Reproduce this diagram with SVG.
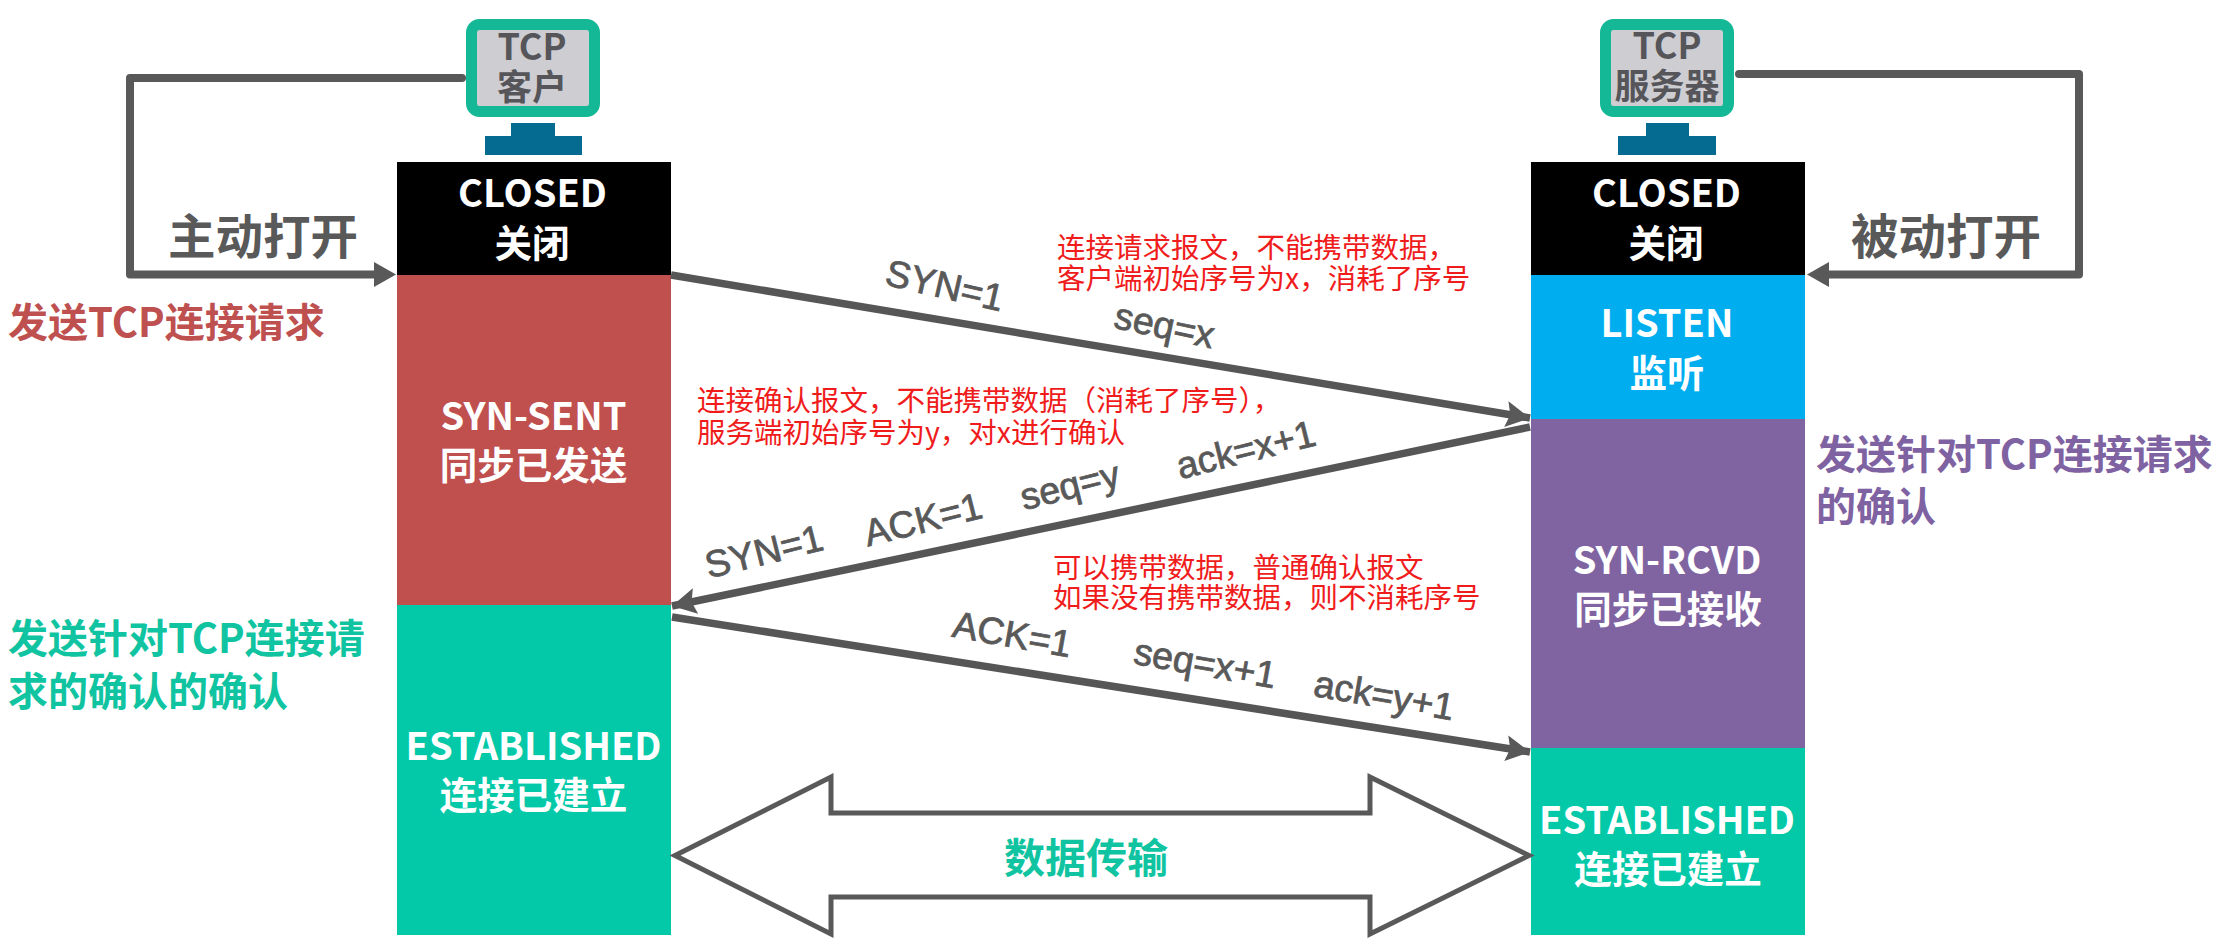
<svg xmlns="http://www.w3.org/2000/svg" width="2222" height="952" viewBox="0 0 2222 952">
<style>
text{font-family:"Noto Sans CJK SC","Noto Sans",sans-serif}
.st{fill:#fff;font-size:37.5px;font-weight:700;text-anchor:middle}
.en{font-size:38px}
.mon{fill:#55555a;font-size:35px;font-weight:700;text-anchor:middle}
.tcp{font-size:36px}
.frame{fill:#cdcdd2;stroke:#14b897;stroke-width:11}
.stand{fill:#066b90}
.wire{fill:none;stroke:#595959;stroke-width:8;stroke-linejoin:round;stroke-linecap:round}
.msg{fill:none;stroke:#565656;stroke-width:7.5}
.hd{fill:#595959;font-size:47.5px;font-weight:700;text-anchor:middle}
.side{font-size:40px;font-weight:700}
.note{fill:#f01c1c;font-size:28.5px}
.lab{font-family:"Liberation Sans",Arial,sans-serif;fill:#595959;font-size:37.5px;text-anchor:middle;stroke:#595959;stroke-width:.8}
</style>
<defs>
<marker id="ah" viewBox="0 0 24 26" refX="24" refY="13" markerWidth="24" markerHeight="26" markerUnits="userSpaceOnUse" orient="auto"><path d="M0 0L24 13L0 26L4 13Z" fill="#595959"/></marker>
</defs>
<rect width="2222" height="952" fill="#fff"/>

<g id="client-monitor">
<rect class="frame" x="471.5" y="24.5" width="123" height="87" rx="8"/>
<path class="stand" d="M511 123H555V136H582V155H485V136H511Z"/>
<text class="mon tcp" x="532" y="60">TCP</text>
<text class="mon" x="532" y="100">客户</text>
</g>
<g id="server-monitor">
<rect class="frame" x="1605.5" y="24.5" width="123" height="87" rx="8"/>
<path class="stand" d="M1646 123H1689V136H1716V155H1618V136H1646Z"/>
<text class="mon tcp" x="1667" y="59">TCP</text>
<text class="mon" x="1667" y="99">服务器</text>
</g>

<g id="client-closed"><rect x="397" y="162" width="274" height="113" fill="#000"/>
<text class="st en" x="532.5" y="207">CLOSED</text><text class="st" x="532" y="257">关闭</text></g>
<g id="client-syn-sent"><rect x="397" y="275" width="274" height="330" fill="#bf504e"/>
<text class="st en" x="533.5" y="430">SYN-SENT</text><text class="st" x="533.5" y="479">同步已发送</text></g>
<g id="client-established"><rect x="397" y="605" width="274" height="330" fill="#04c9a8"/>
<text class="st en" x="533.5" y="760">ESTABLISHED</text><text class="st" x="533.5" y="809">连接已建立</text></g>

<g id="server-closed"><rect x="1531" y="162" width="274" height="113" fill="#000"/>
<text class="st en" x="1666.5" y="207">CLOSED</text><text class="st" x="1666" y="257">关闭</text></g>
<g id="server-listen"><rect x="1531" y="275" width="274" height="144" fill="#00aeef"/>
<text class="st en" x="1667" y="337">LISTEN</text><text class="st" x="1667" y="387">监听</text></g>
<g id="server-syn-rcvd"><rect x="1531" y="419" width="274" height="329" fill="#8064a2"/>
<text class="st en" x="1667" y="574">SYN-RCVD</text><text class="st" x="1668" y="623">同步已接收</text></g>
<g id="server-established"><rect x="1531" y="748" width="274" height="187" fill="#04c9a8"/>
<text class="st en" x="1667" y="834">ESTABLISHED</text><text class="st" x="1668" y="883">连接已建立</text></g>

<g id="connectors">
<path class="wire" d="M462 78H130V274.5H380"/>
<path d="M374 262L396 274.5L374 287Z" fill="#595959"/>
<path class="wire" d="M1739 74H2079V274.5H1825"/>
<path d="M1829 262L1807 274.5L1829 287Z" fill="#595959"/>
<path class="msg" d="M671 275L1530 418" marker-end="url(#ah)"/>
<path class="msg" d="M1530 427L672 606" marker-end="url(#ah)"/>
<path class="msg" d="M672 617L1530 752" marker-end="url(#ah)"/>
<path id="data-transfer" d="M675 855.5L831 777V813H1370V777L1529 855.5L1370 934V897H831V934Z" fill="#fff" stroke="#595959" stroke-width="5"/>
</g>

<g id="labels">
<text class="hd" x="263" y="254">主动打开</text>
<text class="hd" x="1946" y="254">被动打开</text>
<text class="side" x="8" y="337" fill="#be5050">发送TCP连接请求</text>
<text class="side" x="1816" y="469" fill="#7f62a2">发送针对TCP连接请求</text>
<text class="side" x="1816" y="521" fill="#7f62a2">的确认</text>
<text class="side" x="8" y="653" fill="#10c4a2">发送针对TCP连接请</text>
<text class="side" x="8" y="706" fill="#10c4a2">求的确认的确认</text>
<text x="1086" y="873" font-size="41" font-weight="700" text-anchor="middle" fill="#10c4a2">数据传输</text>

<text class="note" x="1057" y="258">连接请求报文，不能携带数据，</text>
<text class="note" x="1057" y="289">客户端初始序号为x，消耗了序号</text>
<text class="note" x="697" y="411">连接确认报文，不能携带数据（消耗了序号），</text>
<text class="note" x="697" y="443">服务端初始序号为y，对x进行确认</text>
<text class="note" x="1053" y="578">可以携带数据，普通确认报文</text>
<text class="note" x="1053" y="608">如果没有携带数据，则不消耗序号</text>

<text class="lab" transform="translate(942 298) rotate(13)">SYN=1</text>
<text class="lab" transform="translate(1162 338) rotate(12)">seq=x</text>
<text class="lab" transform="translate(767 564) rotate(-14)">SYN=1</text>
<text class="lab" transform="translate(926 532) rotate(-14)">ACK=1</text>
<text class="lab" transform="translate(1073 498) rotate(-14)">seq=y</text>
<text class="lab" transform="translate(1249 462) rotate(-14)">ack=x+1</text>
<text class="lab" transform="translate(1010 647) rotate(10)">ACK=1</text>
<text class="lab" transform="translate(1203 676) rotate(10)">seq=x+1</text>
<text class="lab" transform="translate(1382 708) rotate(10)">ack=y+1</text>
</g>
</svg>
